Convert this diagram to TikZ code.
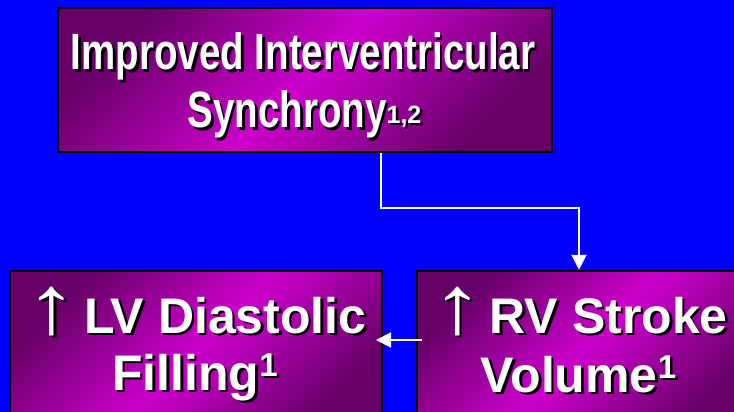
\documentclass[tikz,border=0pt]{standalone}
\usepackage{fontspec}
\setmainfont{Liberation Sans}
\usetikzlibrary{arrows.meta}
\definecolor{bgblue}{HTML}{0000FF}
\definecolor{darkmag}{HTML}{660066}
\definecolor{brightmag}{HTML}{CC00CC}
\newcommand\shtext[1]{\makebox[0pt][l]{\hspace{2.5pt}\raisebox{-2.5pt}{\color{black}#1}}{\color{white}#1}}
\newcommand\supnum[3]{\raisebox{#1}{\fontsize{#2}{#2}\selectfont\bfseries #3}}
\newcommand\uparr{\scalebox{2.1}[1.65]{\mdseries ↑}\hspace{6pt}}
\tikzset{
  box/.style={draw=black, line width=2.5pt, rectangle, inner sep=0pt,
    top color=darkmag, bottom color=darkmag, middle color=brightmag, shading angle=45},
  bigtxt/.style={anchor=base, inner sep=0pt, font=\fontsize{50}{58}\selectfont\bfseries},
  conn/.style={draw=white, line width=2pt, -{Triangle[length=15pt,width=15pt]}}
}
\begin{document}
\begin{tikzpicture}[x=1pt,y=-1pt]
\fill[bgblue] (0,0) rectangle (734,412);
\useasboundingbox (0,0) rectangle (734,412);
\begin{scope}
\clip (0,0) rectangle (734,412);
\node[box, minimum width=494pt, minimum height=144pt] (top) at (305,80) {};
\node[box, minimum width=372pt, minimum height=160pt] (left) at (196,351) {};
\node[box, minimum width=333pt, minimum height=160pt] (right) at (583.5,351) {};
\end{scope}
% top texts
\node[bigtxt, font=\fontsize{51}{58}\selectfont\bfseries] (t1) at (303,70) {\shtext{\scalebox{0.755}[1]{Improved Interventricular}}};
\node[bigtxt, font=\fontsize{51}{58}\selectfont\bfseries] (t2) at (304.5,128) {\shtext{\scalebox{0.755}[1]{Synchrony}\supnum{5pt}{25}{1,2}}};
% left texts
\node[bigtxt] (l1) at (196,333) {\shtext{\uparr LV Diastolic}};
\node[bigtxt] (l2) at (195,390) {\shtext{Filling\supnum{14pt}{33}{1}}};
% right texts
\node[bigtxt] (r1) at (579.5,333) {\shtext{\uparr RV Stroke}};
\node[bigtxt] (r2) at (578.5,392) {\shtext{Volume\supnum{14pt}{33}{1}}};
% connectors
\coordinate (k1) at (381,208);
\coordinate (k2) at (579,208);
\coordinate (k3) at (422,340);
\coordinate (k4) at (376,340);
\draw[conn] (top.south -| k1) -- (k1) -- (k2) -- (k2 |- right.north);
\draw[conn] (k3) -- (k4);
\end{tikzpicture}
\end{document}
